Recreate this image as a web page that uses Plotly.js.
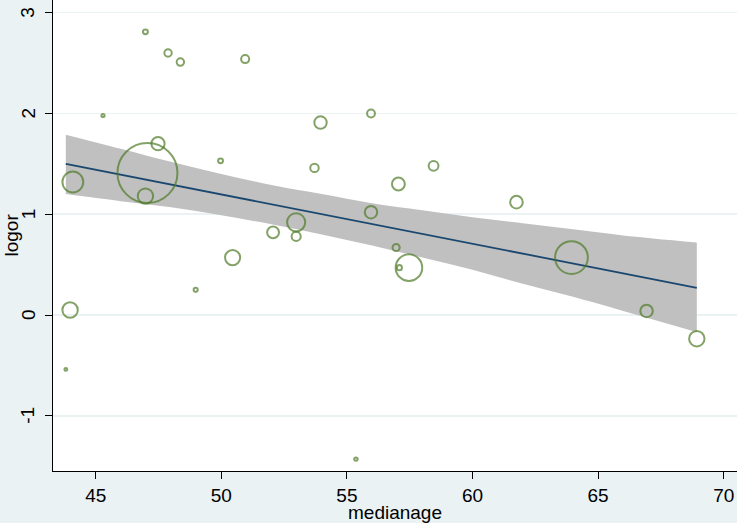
<!DOCTYPE html>
<html>
<head>
<meta charset="utf-8">
<script src="https://cdn.plot.ly/plotly-3.0.1.min.js"></script>
<style>html,body{margin:0;padding:0;background:#EAF2F3;}#chart{width:737px;height:523px;}</style>
</head>
<body>
<div id="chart"></div>
<script>
// Study-level points: median age, log odds ratio, weight (bubble area)
const medianage = [46.98, 47.88, 48.37, 50.95, 45.29, 47.48, 47.06, 44.09, 46.98, 49.97,
                   50.45, 43.98, 43.81, 48.98, 53.95, 55.96, 53.71, 57.05, 58.45, 55.96,
                   52.98, 52.06, 52.98, 56.96, 57.47, 57.09, 55.36, 61.75, 63.94, 66.93, 68.93];
const logor = [2.81, 2.60, 2.51, 2.54, 1.98, 1.70, 1.41, 1.32, 1.18, 1.53,
               0.57, 0.05, -0.54, 0.25, 1.91, 2.00, 1.46, 1.30, 1.48, 1.02,
               0.92, 0.82, 0.78, 0.67, 0.47, 0.47, -1.43, 1.12, 0.57, 0.04, -0.235];
const weight = [0.24, 0.55, 0.55, 0.66, 0.10, 1.74, 36.0, 4.35, 2.38, 0.24,
                2.29, 2.38, 0.08, 0.17, 1.55, 0.62, 0.72, 1.66, 0.97, 1.55,
                3.30, 1.40, 0.83, 0.51, 7.05, 0.26, 0.12, 1.60, 10.75, 1.55, 2.38];

// Fitted line and 95% CI band
const fitX = [43.81, 68.93];
const fitY = [1.50, 0.27];
const ciX = [43.81, 46, 48, 50, 52, 54, 56, 58, 60, 62, 64, 66, 68.93];
const ciUpper = [1.79, 1.65, 1.52, 1.40, 1.29, 1.20, 1.11, 1.04, 0.97, 0.91, 0.85, 0.79, 0.72];
const ciLower = [1.20, 1.13, 1.07, 0.99, 0.90, 0.80, 0.69, 0.57, 0.45, 0.31, 0.18, 0.04, -0.17];

const xTicks = [45, 50, 55, 60, 65, 70];
const yTicks = [-1, 0, 1, 2, 3];
const xTitle = 'medianage';
const yTitle = 'logor';

const traces = [
  {x: ciX, y: ciLower, mode: 'lines', line: {width: 0, color: '#C0C0C0', shape: 'spline'}, hoverinfo: 'skip', showlegend: false},
  {x: ciX, y: ciUpper, mode: 'lines', fill: 'tonexty', fillcolor: '#C0C0C0', line: {width: 0, color: '#C0C0C0', shape: 'spline'}, hoverinfo: 'skip', showlegend: false},
  {x: fitX, y: fitY, mode: 'lines', line: {color: '#1A476F', width: 1.8}, showlegend: false},
  {x: medianage, y: logor, mode: 'markers', showlegend: false,
   marker: {symbol: 'circle-open', size: weight, sizemode: 'area', sizeref: 0.02,
            color: '#4F7B27', line: {color: '#4F7B27', width: 2}}}
];

const font = {family: 'Liberation Sans, Arial, sans-serif', size: 19, color: '#000'};

// y tick labels (rotated, Stata style) and y title placed beside the axis
const annotations = yTicks.map(v => ({
  text: String(v), xref: 'paper', x: 0, xshift: -25, xanchor: 'center',
  yref: 'y', y: v, yanchor: 'middle', textangle: -90, showarrow: false, font: font
}));
annotations.push({
  text: yTitle, xref: 'paper', x: 0, xshift: -42, xanchor: 'center',
  yref: 'paper', y: 0.5, yanchor: 'middle', textangle: -90, showarrow: false, font: font
});

const layout = {
  width: 737, height: 523,
  margin: {l: 53, r: 0, t: 0, b: 52, pad: 0},
  paper_bgcolor: '#EAF2F3', plot_bgcolor: '#FFFFFF',
  font: font,
  showlegend: false,
  annotations: annotations,
  xaxis: {
    range: [43.30, 70.53], tickvals: xTicks, ticktext: xTicks.map(String),
    ticks: 'outside', ticklen: 7, tickwidth: 1, tickcolor: '#000',
    showline: true, linecolor: '#000', linewidth: 1, mirror: false,
    showgrid: false, zeroline: false,
    tickfont: font,
    title: {text: xTitle, font: font, standoff: 0},
    automargin: false
  },
  yaxis: {
    range: [-1.548, 3.126], tickvals: yTicks,
    ticks: 'outside', ticklen: 7, tickwidth: 1, tickcolor: '#000',
    showticklabels: false,
    showline: true, linecolor: '#000', linewidth: 1,
    showgrid: true, gridcolor: '#EAF2F3', gridwidth: 1.5, zeroline: false,
    automargin: false
  }
};

Plotly.newPlot('chart', traces, layout, {displayModeBar: false, staticPlot: true});
</script>
</body>
</html>
